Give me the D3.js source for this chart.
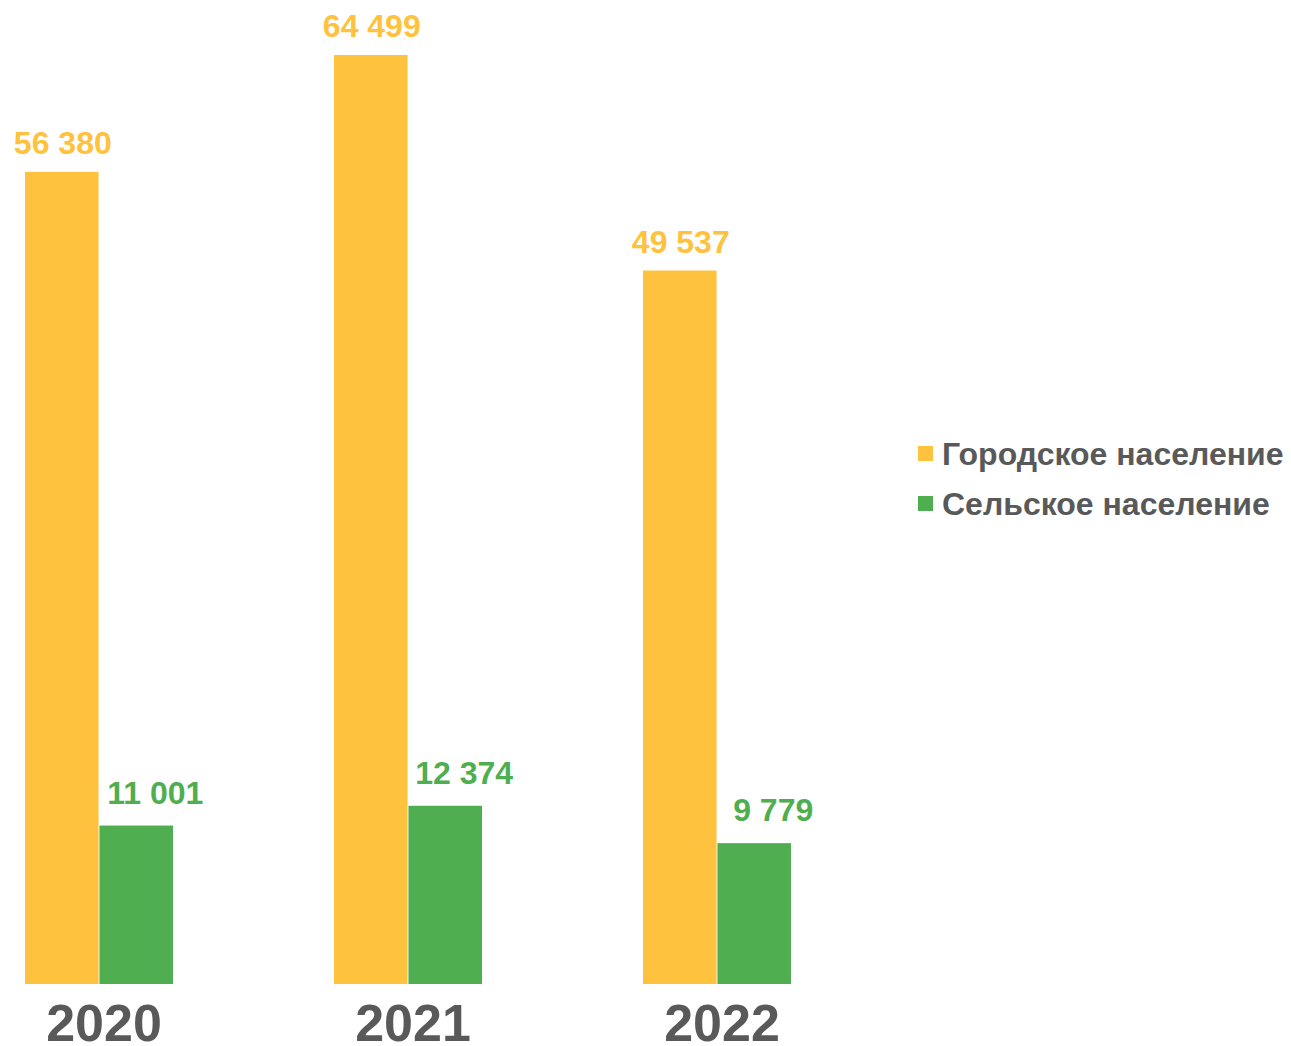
<!DOCTYPE html>
<html>
<head>
<meta charset="utf-8">
<script src="https://cdn.jsdelivr.net/npm/d3@7"></script>
<style>
  body { margin: 0; background: #fff; }
  text { font-family: "Liberation Sans", Arial, sans-serif; font-weight: bold; }
</style>
</head>
<body>
<script>
var width = 1291;
var height = 1046;

var years = ["2020", "2021", "2022"];
var series = ["Городское население", "Сельское население"];
var urban = [56380, 64499, 49537];
var rural = [11001, 12374, 9779];
var colors = ["#FFC23E", "#4FAE50"];

var data = years.map(function(y, i) {
    return { year: y, values: [urban[i], rural[i]] };
});

var svg = d3.select("body").append("svg")
    .attr("width", width)
    .attr("height", height);

var xScale = d3.scaleBand()
    .domain(years)
    .range([25, 791])
    .paddingInner(0.521)
    .paddingOuter(0);

var xInner = d3.scaleBand()
    .domain(series)
    .range([0, xScale.bandwidth()])
    .paddingInner(0.012);

var yScale = d3.scaleLinear()
    .domain([0, 64499])
    .range([984, 55]);

var fmt = function(v) { return d3.format(",")(v).replace(/,/g, " "); };

var groups = svg.selectAll(".group")
    .data(data)
    .enter().append("g")
    .attr("class", "group")
    .attr("transform", function(d) { return "translate(" + xScale(d.year) + ",0)"; });

groups.selectAll("rect")
    .data(function(d) { return d.values.map(function(v, i) { return { s: series[i], v: v, i: i }; }); })
    .enter().append("rect")
    .attr("x", function(d) { return xInner(d.s); })
    .attr("y", function(d) { return yScale(d.v); })
    .attr("width", xInner.bandwidth())
    .attr("height", function(d) { return yScale(0) - yScale(d.v); })
    .attr("fill", function(d) { return colors[d.i]; });

groups.selectAll(".label")
    .data(function(d) { return d.values.map(function(v, i) { return { s: series[i], v: v, i: i }; }); })
    .enter().append("text")
    .attr("class", "label")
    .attr("x", function(d) { return xInner(d.s) + xInner.bandwidth() / 2 + (d.i === 1 ? 19 : 1); })
    .attr("y", function(d) { return yScale(d.v) - (d.i === 1 ? 22 : 18); })
    .attr("text-anchor", "middle")
    .style("font-size", "32px")
    .attr("fill", function(d) { return colors[d.i]; })
    .text(function(d) { return fmt(d.v); });

svg.append("g")
    .attr("transform", "translate(5,0)")
    .selectAll("text")
    .data(years)
    .enter().append("text")
    .attr("x", function(d) { return xScale(d) + xScale.bandwidth() / 2; })
    .attr("y", 1041)
    .attr("text-anchor", "middle")
    .style("font-size", "52px")
    .attr("fill", "#595959")
    .text(function(d) { return d; });

var legend = svg.selectAll(".legend")
    .data(series)
    .enter().append("g")
    .attr("class", "legend")
    .attr("transform", function(d, i) { return "translate(918," + (446 + i * 50) + ")"; });

legend.append("rect")
    .attr("width", 15)
    .attr("height", 15)
    .attr("fill", function(d, i) { return colors[i]; });

legend.append("text")
    .attr("x", 24)
    .attr("y", 19)
    .style("font-size", "32px")
    .attr("fill", "#595959")
    .text(function(d) { return d; });
</script>
</body>
</html>
